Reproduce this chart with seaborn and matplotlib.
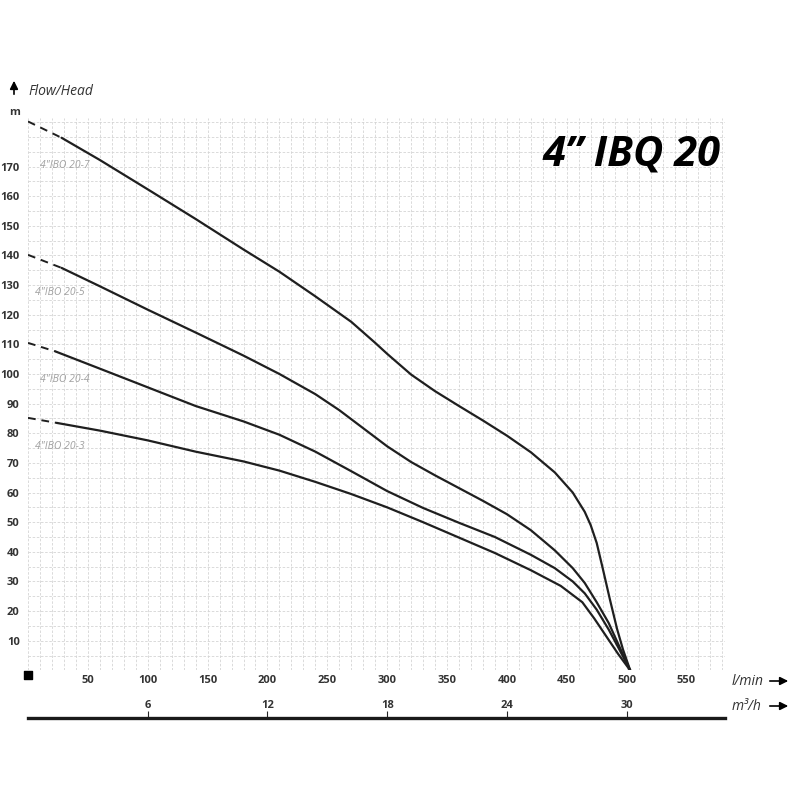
import pandas as pd
import matplotlib.pyplot as plt
from matplotlib.ticker import MultipleLocator
import seaborn as sns

# pump curves (flow in l/min, head in m)
flow_207 = [28, 60, 100, 140, 180, 210, 240, 270, 290, 300, 320, 340, 360, 380, 400, 420, 440, 455, 465, 470, 475, 480, 486, 492, 497, 503]
head_207 = [179.7, 172.2, 162.3, 152.3, 142, 134.5, 126.2, 117.6, 110.5, 106.8, 99.8, 94.2, 89.2, 84.3, 79.2, 73.6, 66.8, 60, 53.5, 49, 43, 34.5, 24, 14, 7, 0]

flow_205 = [28, 60, 100, 140, 180, 210, 240, 260, 280, 300, 320, 340, 360, 380, 400, 420, 440, 455, 465, 475, 485, 494, 503]
head_205 = [135.8, 129.6, 121.7, 114, 106.2, 100, 93.2, 87.8, 81.7, 75.6, 70.3, 65.8, 61.5, 57.2, 52.7, 47.3, 40.5, 34.5, 29.5, 23, 16, 8, 0]

flow_204 = [23, 60, 100, 140, 180, 210, 240, 270, 300, 330, 360, 390, 420, 440, 455, 465, 475, 485, 494, 503]
head_204 = [107.6, 101.8, 95.5, 89.2, 84, 79.5, 73.8, 67.2, 60.5, 54.8, 49.8, 45, 39, 34.5, 30, 26, 20.5, 13.8, 7, 0]

flow_203 = [24, 60, 100, 140, 180, 210, 240, 270, 300, 330, 360, 390, 420, 445, 463, 473, 483, 493, 503]
head_203 = [83.5, 80.9, 77.6, 73.8, 70.5, 67.4, 63.6, 59.5, 55, 50, 44.8, 39.6, 33.8, 28.5, 23, 17.5, 11.5, 5.5, 0]

# dashed extrapolation towards zero flow
dash_flow_207 = [0, 28]
dash_head_207 = [185.2, 179.7]
dash_flow_205 = [0, 28]
dash_head_205 = [140.2, 135.8]
dash_flow_204 = [0, 23]
dash_head_204 = [110.5, 107.6]
dash_flow_203 = [0, 24]
dash_head_203 = [85.2, 83.5]

curve_names = ['4"IBO 20-7', '4"IBO 20-5', '4"IBO 20-4', '4"IBO 20-3']
label_flow = [10, 6, 10, 6]
label_head = [170.4, 127.5, 98, 75.5]

y_ticks = list(range(10, 180, 10))
x_ticks = list(range(50, 600, 50))
m3h_ticks = [6, 12, 18, 24, 30]

solid = [(flow_207, head_207), (flow_205, head_205), (flow_204, head_204), (flow_203, head_203)]
dashed = [(dash_flow_207, dash_head_207), (dash_flow_205, dash_head_205),
          (dash_flow_204, dash_head_204), (dash_flow_203, dash_head_203)]

sns.set_style("white")
plt.rcParams['font.family'] = ['Open Sans', 'DejaVu Sans']

fig = plt.figure(figsize=(8, 8), dpi=100)
ax = fig.add_axes([0.035, 0.162, 0.871, 0.691])

for fx, hy in solid:
    df = pd.DataFrame({'flow': fx, 'head': hy})
    sns.lineplot(data=df, x='flow', y='head', ax=ax, color='#1f1f1f', linewidth=1.6,
                 sort=False, estimator=None)
for fx, hy in dashed:
    df = pd.DataFrame({'flow': fx, 'head': hy})
    sns.lineplot(data=df, x='flow', y='head', ax=ax, color='#1f1f1f', linewidth=1.4,
                 linestyle=(0, (4, 3)), sort=False, estimator=None)

for name, lx, ly in zip(curve_names, label_flow, label_head):
    ax.text(lx, ly, name, fontsize=7.5, style='italic', color='#a0a0a0', va='center', ha='left')

ax.set_xlim(0, 582)
ax.set_ylim(0, 186.5)
ax.xaxis.set_minor_locator(MultipleLocator(10))
ax.yaxis.set_minor_locator(MultipleLocator(5))
ax.set_xticks(x_ticks)
ax.set_yticks(y_ticks)
ax.grid(which='both', color='#d4d4d4', linestyle=(0, (3, 2)), linewidth=0.6)
ax.set_axisbelow(True)
for s in ax.spines.values():
    s.set_visible(False)
ax.tick_params(which='both', length=0)
ax.tick_params(axis='x', pad=3, labelsize=8, labelcolor='#333333')
ax.tick_params(axis='y', pad=6, labelsize=8, labelcolor='#333333')
for lab in ax.get_xticklabels() + ax.get_yticklabels():
    lab.set_fontweight('bold')
ax.set_xlabel('')
ax.set_ylabel('')

# origin marker
ax.scatter([0], [-1.5], marker='s', s=30, color='black', clip_on=False, zorder=5)

# second flow scale in m3/h
sec = ax.secondary_xaxis(-0.086, functions=(lambda q: q * 0.06, lambda q: q / 0.06))
sec.set_xticks(m3h_ticks)
sec.spines['bottom'].set_linewidth(2.4)
sec.spines['bottom'].set_color('#1a1a1a')
sec.tick_params(direction='in', length=5, width=0.8, pad=-13, labelsize=8, labelcolor='#333333')
for lab in sec.get_xticklabels():
    lab.set_fontweight('bold')

# title and axis captions
fig.text(0.79, 0.806, '4\u201d IBQ 20', fontsize=30, fontweight='bold', style='italic',
         ha='center', va='center', color='black')
fig.text(0.036, 0.886, 'Flow/Head', fontsize=10, style='italic', color='#333333', va='center')
fig.text(0.011, 0.859, 'm', fontsize=8, fontweight='bold', color='#333333', va='center')
fig.text(0.915, 0.148, 'l/min', fontsize=10, style='italic', color='#333333', va='center')
fig.text(0.915, 0.117, 'm\u00b3/h', fontsize=10, style='italic', color='#333333', va='center')

arrow = dict(arrowstyle='-|>', color='black', lw=1.2, mutation_scale=12)
ax.annotate('', xy=(791, 119), xytext=(767, 119), xycoords='figure pixels',
            textcoords='figure pixels', arrowprops=arrow, annotation_clip=False)
ax.annotate('', xy=(791, 94), xytext=(767, 94), xycoords='figure pixels',
            textcoords='figure pixels', arrowprops=arrow, annotation_clip=False)
ax.annotate('', xy=(14, 722), xytext=(14, 703), xycoords='figure pixels',
            textcoords='figure pixels', arrowprops=arrow, annotation_clip=False)

fig.savefig('out.png', dpi=100)
